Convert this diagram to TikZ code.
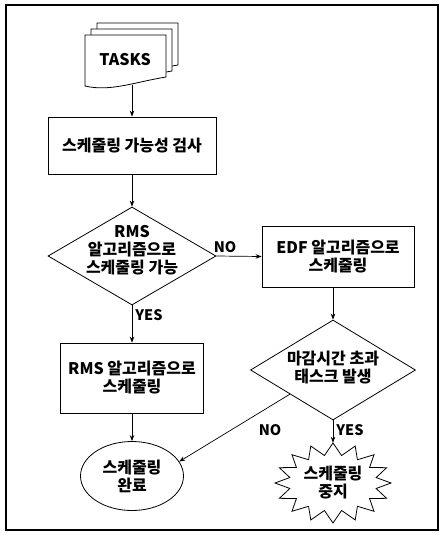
\documentclass[tikz,border=0pt]{standalone}
\usepackage{fontspec}
\setmainfont{Noto Sans CJK KR}
\usetikzlibrary{shapes.geometric,arrows.meta,calc}
\begin{document}
\begin{tikzpicture}[x=1pt,y=-1pt,
  font=\fontsize{16}{18}\selectfont\bfseries,
  box/.style={draw, line width=0.8pt, inner sep=0pt, align=center},
  dia/.style={draw, diamond, line width=0.8pt, inner sep=0pt},
  txt/.style={align=center, inner sep=0pt},
  arr/.style={-{Stealth[length=6pt,width=4.5pt]}, line width=0.7pt},
  lbl/.style={font=\fontsize{14.5}{16}\selectfont\bfseries, inner sep=0pt}]
\useasboundingbox (0,0) rectangle (445,539);
% frame
\draw[line width=1.5pt] (6,5) rectangle (438,530);
% document stack
\foreach \s in {12,6,0}{
  \draw[line width=0.8pt, fill=white, shift={(\s,-\s)}]
    (85,35) -- (166,35) -- (166,77) .. controls (135,82) and (110,92) .. (85,86) -- cycle;
}
\node[txt] (tasks) at (125,60) {TASKS};
\coordinate (docbot) at (132,85);
% nodes
\node[box, minimum width=168, minimum height=57] (check) at (132,145.5) {스케줄링 가능성 검사};
\node[dia, minimum width=168, minimum height=98] (rmsq) at (132,256) {};
\node[txt] at (132,250) {RMS\\알고리즘으로\\스케줄링 가능};
\node[box, minimum width=152, minimum height=61] (edf) at (338,256.5) {EDF 알고리즘으로\\스케줄링};
\node[box, minimum width=143, minimum height=70] (rms) at (132,378) {RMS 알고리즘으로\\스케줄링};
\node[dia, minimum width=165, minimum height=100] (dl) at (333,370) {};
\node[txt] at (333,368) {마감시간 초과\\태스크 발생};
\node[draw, ellipse, line width=0.8pt, minimum width=103, minimum height=69, inner sep=0pt, align=center] (done) at (132,476) {스케줄링\\완료};
\node[txt, minimum width=116, minimum height=80] (stop) at (333,483) {스케줄링\\중지};
\draw[line width=0.8pt] plot[samples=33, domain=0:32, variable=\t]
  ({333+(58-14*mod(\t,2))*cos(\t*11.25+90)}, {483-(40-12*mod(\t,2))*sin(\t*11.25+90)}) -- cycle;
% connectors
\draw[arr] (docbot) -- (check.north);
\draw[arr] (check.south) -- (rmsq.north);
\draw[arr] (rmsq.east) -- (edf.west);
\draw[arr] (rmsq.south) -- (rms.north);
\draw[arr] (rms.south) -- (done.north);
\draw[arr] (edf.south -| dl.north) -- (dl.north);
\draw[arr] ($(dl.west)!0.48!(dl.south)$) -- (done.17);
\draw[arr] (dl.south) -- (stop.north);
% labels
\node[lbl] at (225,247) {NO};
\node[lbl] at (149,315) {YES};
\node[lbl] at (270,430) {NO};
\node[lbl] at (350,430) {YES};
\end{tikzpicture}
\end{document}
